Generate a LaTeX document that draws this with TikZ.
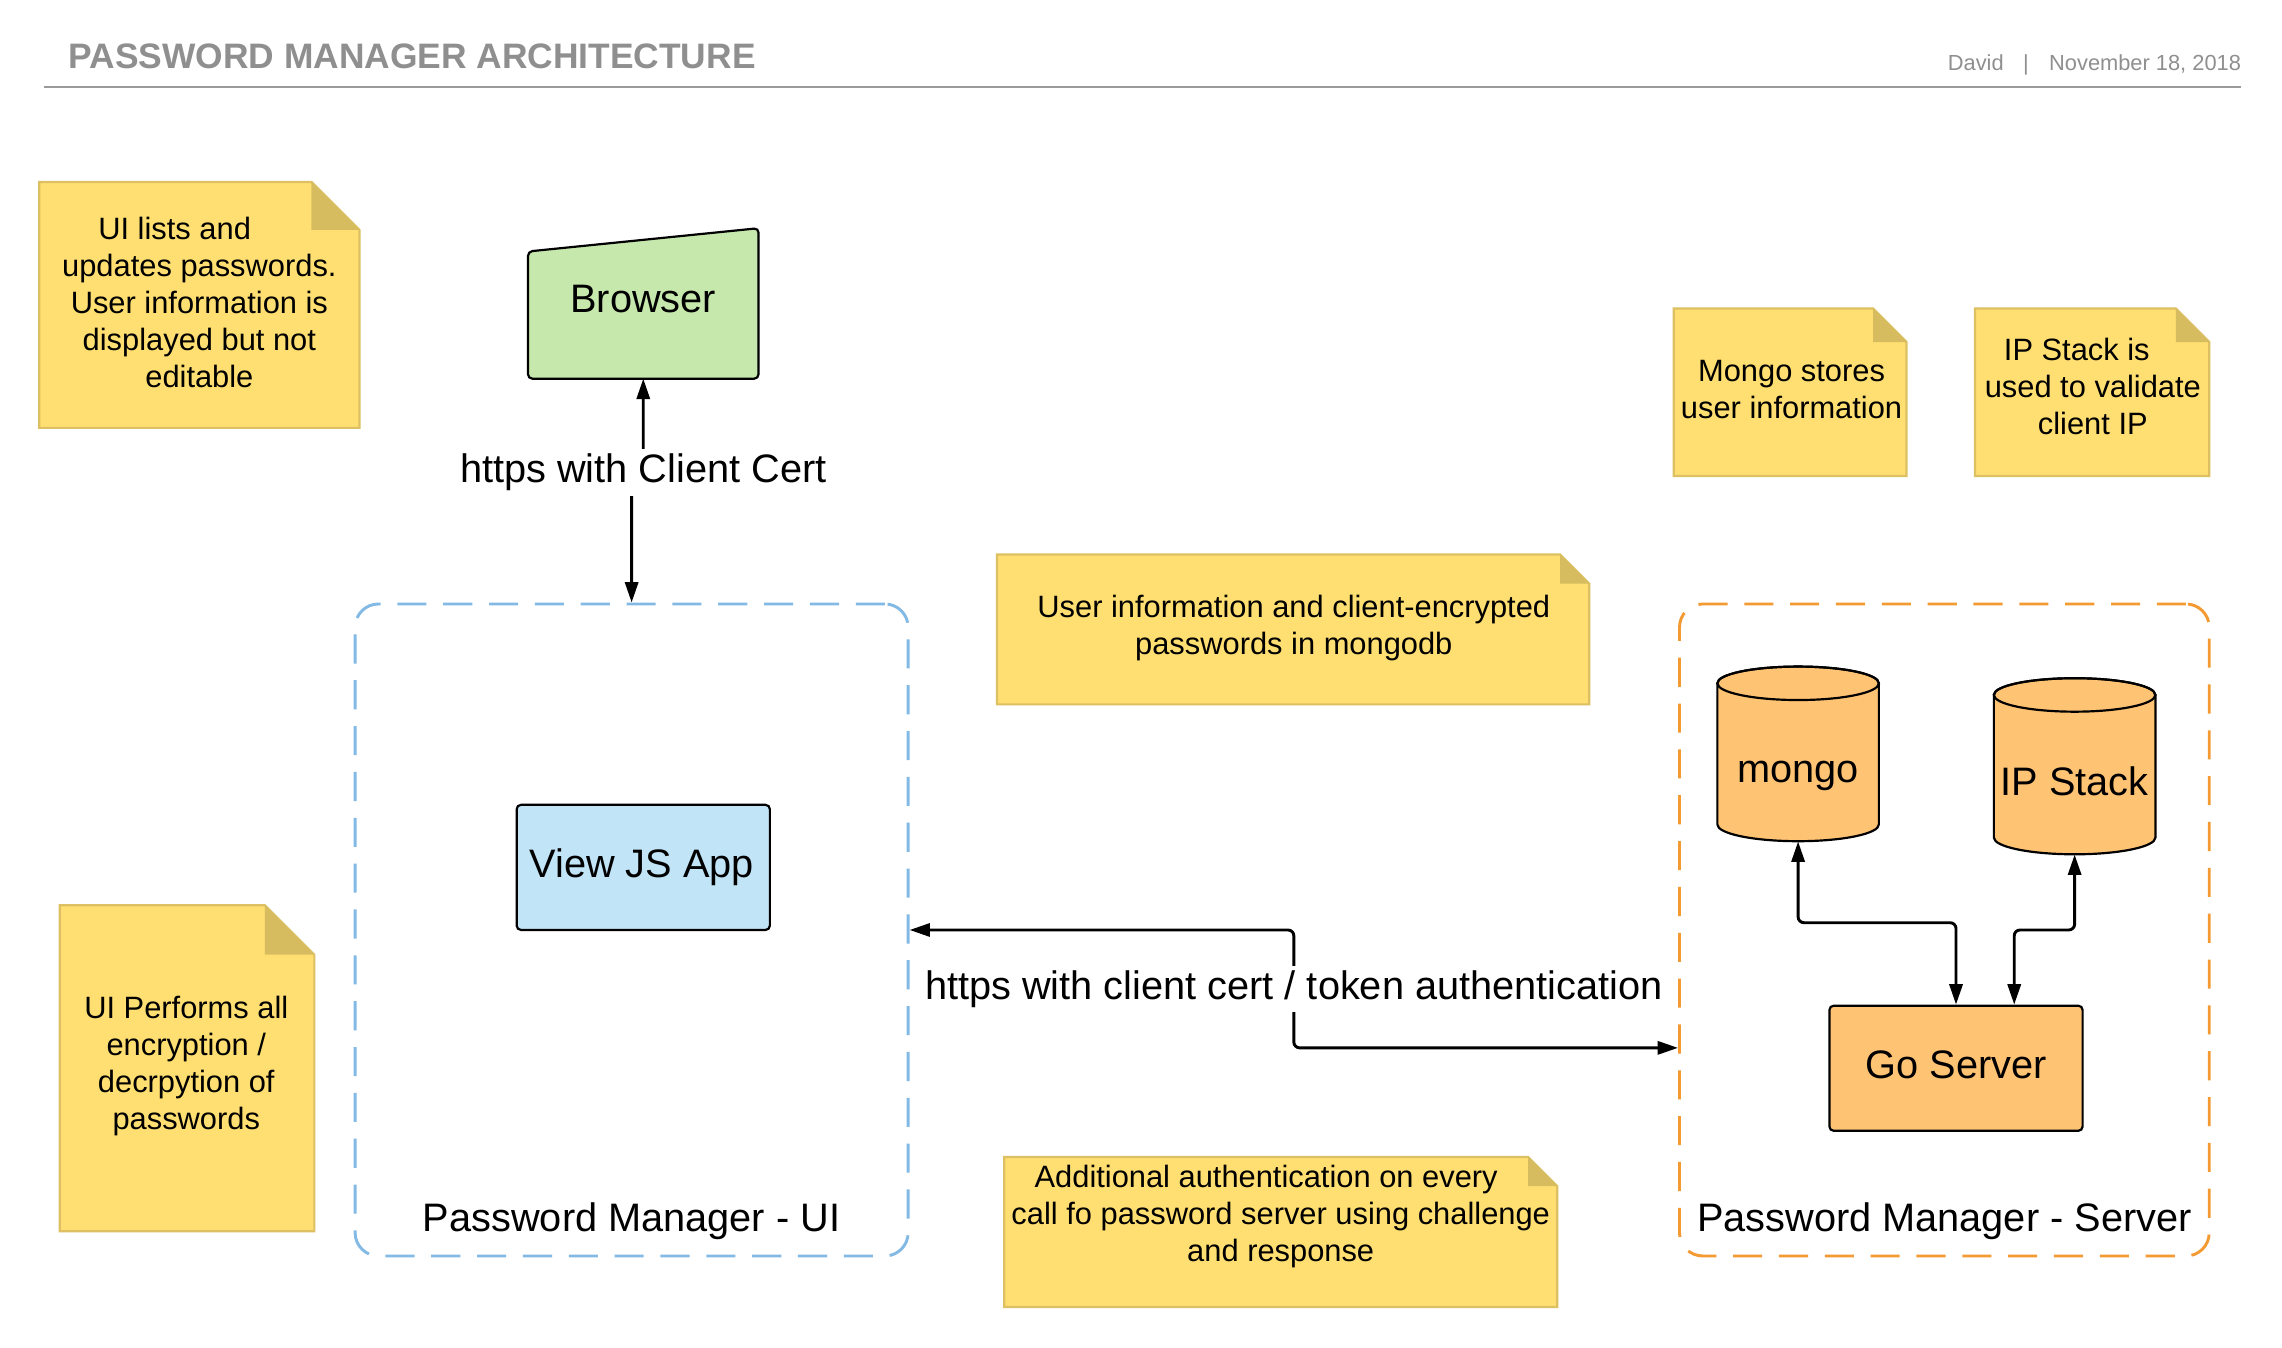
\documentclass[tikz,border=0pt]{standalone}
\usepackage{fontspec}
\setmainfont{Liberation Sans}
\usetikzlibrary{arrows.meta,calc}

\definecolor{notefill}{HTML}{FFDF71}
\definecolor{notedraw}{HTML}{DCC062}
\definecolor{notefold}{HTML}{D6BC5E}
\definecolor{browserfill}{HTML}{C7E8AC}
\definecolor{jsfill}{HTML}{C1E4F7}
\definecolor{orfill}{HTML}{FFC374}
\definecolor{uidash}{HTML}{83B9E5}
\definecolor{srvdash}{HTML}{F39A32}
\definecolor{titlegray}{HTML}{8F8F8F}
\definecolor{rulegray}{HTML}{9A9A9A}

\tikzset{
  notestyle/.style={fill=notefill, draw=notedraw, line width=1.5pt, line join=miter},
  notetext/.style={align=center, font=\fontsize{21.2}{25.5}\selectfont, inner sep=0pt},
  lbl/.style={font=\fontsize{27.3}{32}\selectfont, inner sep=0pt, anchor=base},
  conn/.style={line width=2pt, rounded corners=4pt, {Triangle[length=14pt,width=9pt]}-{Triangle[length=14pt,width=9pt]}},
  boxstyle/.style={draw=black, line width=1.5pt, rounded corners=3pt, inner sep=0pt},
  container/.style={line width=2pt, dash pattern=on 20pt off 11.5pt, rounded corners=16pt, inner sep=0pt},
  cyl/.style={fill=orfill, draw=black, line width=1.5pt},
  ghost/.style={inner sep=0pt},
}

\newcommand\stickynote[9]{%
  \filldraw[notestyle] (#2,-#3) -- ({#4-#6},-#3) -- (#4,{-#3-#6}) -- (#4,-#5) -- (#2,-#5) -- cycle;
  \fill[notefold] ({#4-#6},-#3) -- ({#4-#6},{-#3-#6}) -- (#4,{-#3-#6}) -- cycle;
  \node[notetext] (#1) at (#7,-#8) {#9};
}

\begin{document}
\begin{tikzpicture}[x=1pt,y=1pt]
\fill[white] (0,0) rectangle (1568,-926.2);
\useasboundingbox (0,0) rectangle (1568,-926.2);

% header
\node[font=\bfseries\fontsize{24.3}{29}\selectfont, text=titlegray, anchor=base west, inner sep=0pt] (title) at (47,-47) {PASSWORD MANAGER ARCHITECTURE};
\node[font=\fontsize{15}{18}\selectfont, text=titlegray, anchor=base east, inner sep=0pt] (meta) at (1540,-48.4) {David\hspace{13.4pt}|\hspace{14pt}November 18, 2018};
\draw[rulegray, line width=1.5pt] (30,-60) -- (1540,-60);

% notes
\stickynote{n1}{27}{125}{247}{294}{33}{137}{208}{UI lists and\hspace*{34pt}\\updates passwords.\\User information is\\displayed but not\\editable}
\stickynote{n2}{41}{622}{216}{846}{34}{128}{732.5}{UI Performs all\\encryption /\\decrpytion of\\passwords}
\stickynote{n3}{1150}{212}{1310}{327}{23}{1231}{267.5}{Mongo stores\\user information}
\stickynote{n4}{1357}{212}{1518}{327}{23}{1438}{265.5}{IP Stack is\hspace*{22pt}\\used to validate\\client IP}
\stickynote{n5}{685}{381}{1092}{484}{20}{889}{431.5}{User information and client-encrypted\\passwords in mongodb}
\stickynote{n6}{690}{795}{1070}{898}{20}{880}{836}{Additional authentication on every\hspace*{20pt}\\call fo password server using challenge\\and response}

% containers
\node[container, draw=uidash, minimum width=380pt, minimum height=448pt] (ui) at (434,-639) {};
\node[lbl] (uilabel) at (434,-846) {Password Manager - UI};
\node[container, draw=srvdash, minimum width=364pt, minimum height=448pt] (server) at (1336,-639) {};
\node[lbl] (srvlabel) at (1336,-846) {Password Manager - Server};

% browser
\node[ghost, minimum width=158pt, minimum height=103pt] (browser) at (442,-208.5) {};
\filldraw[fill=browserfill, draw=black, line width=1.5pt, rounded corners=3pt]
  (browser.south west) -- ($(browser.north west)+(0,-16)$) -- (browser.north east) -- (browser.south east) -- cycle;
\node[lbl] (browsertext) at (442,-214.8) {Browser};

% view js app
\node[boxstyle, fill=jsfill, minimum width=174pt, minimum height=86pt] (js) at (442,-596) {};
\node[lbl] (jstext) at (441,-602.8) {View JS App};

% cylinders
\node[ghost, minimum width=111pt, minimum height=120pt] (mongo) at (1235.5,-518) {};
\filldraw[cyl] (1180,-469.5) -- (1180,-566.5)
  arc[start angle=180, end angle=360, x radius=55.5pt, y radius=11.5pt] -- (1291,-469.5)
  arc[start angle=0, end angle=180, x radius=55.5pt, y radius=11.5pt] -- cycle;
\draw[line width=1.5pt] (1235.5,-469.5) ellipse[x radius=55.5pt, y radius=11.5pt];
\node[lbl] (mongotext) at (1235.5,-538) {mongo};

\node[ghost, minimum width=111pt, minimum height=121pt] (ipstack) at (1425.5,-526.5) {};
\filldraw[cyl] (1370,-477.5) -- (1370,-575.5)
  arc[start angle=180, end angle=360, x radius=55.5pt, y radius=11.5pt] -- (1481,-477.5)
  arc[start angle=0, end angle=180, x radius=55.5pt, y radius=11.5pt] -- cycle;
\draw[line width=1.5pt] (1425.5,-477.5) ellipse[x radius=55.5pt, y radius=11.5pt];
\node[lbl] (iptext) at (1425.5,-546.8) {IP Stack};

% go server
\node[boxstyle, fill=orfill, minimum width=174pt, minimum height=86pt] (go) at (1344,-734) {};
\node[lbl] (gotext) at (1344,-740.8) {Go Server};

% connectors
\draw[conn] (browser.south) -- (442,-322) -| (ui.north);
\node[lbl, fill=white, inner xsep=4pt, inner ysep=3.5pt] (c1label) at (442,-331.8) {https with Client Cert};

\draw[conn] (ui.east) -- (889,-639) -- (889,-720) -- ($(server.west)+(0,-81)$);
\node[lbl, fill=white, inner xsep=3pt, inner ysep=3pt] (c2label) at (889,-686.8) {https with client cert / token authentication};

\draw[conn] (mongo.south) -- (1235.5,-634) -| (go.north);
\coordinate (gx) at (1384,0);
\draw[conn] (ipstack.south) -- (1425.5,-639) -| (go.north -| gx);
\end{tikzpicture}
\end{document}
